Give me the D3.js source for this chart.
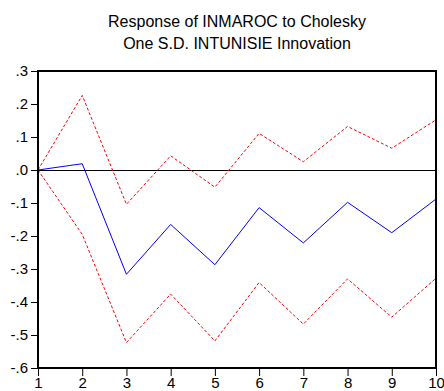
<!DOCTYPE html>
<html><head><meta charset="utf-8">
<script src="https://cdn.jsdelivr.net/npm/d3@7"></script>
<style>body{margin:0;background:#fff}svg{display:block}</style>
</head><body>
<svg id="c" width="444" height="391"></svg>
<script>
const periods = [1,2,3,4,5,6,7,8,9,10];
const response = [0.0, 0.019, -0.316, -0.165, -0.287, -0.114, -0.221, -0.098, -0.19, -0.088];
const upperBand = [0.0, 0.226, -0.104, 0.043, -0.052, 0.111, 0.025, 0.132, 0.066, 0.152];
const lowerBand = [0.0, -0.195, -0.523, -0.376, -0.518, -0.341, -0.467, -0.33, -0.446, -0.328];
const yTicks = [0.3, 0.2, 0.1, 0.0, -0.1, -0.2, -0.3, -0.4, -0.5, -0.6];
const titleLines = ["Response of INMAROC to Cholesky", "One S.D. INTUNISIE Innovation"];

const svg = d3.select("#c");
const L = 38, R = 436, T = 71, B = 368;
const x = d3.scaleLinear().domain([1,10]).range([L,R]);
const y = d3.scaleLinear().domain([-0.6,0.3]).range([B,T]);
const font = "Liberation Sans, Arial, sans-serif";

svg.append("g").selectAll("text").data(titleLines).join("text")
  .attr("x", (L+R)/2).attr("y", (d,i)=>27+i*21.5)
  .attr("text-anchor","middle").attr("font-family",font).attr("font-size",16)
  .attr("fill","#000").text(d=>d);

const fmt = v => { const s = Math.abs(v).toFixed(1).replace(/^0/,""); return (v < -1e-9 ? "-" : "") + s; };

const yAxis = svg.append("g").attr("transform",`translate(${L},0)`)
  .call(d3.axisLeft(y).tickValues(yTicks).tickFormat(fmt).tickSize(7).tickPadding(3));
yAxis.select(".domain").remove();
yAxis.selectAll("text").attr("font-family",font).attr("font-size",15).attr("fill","#000");
yAxis.selectAll("line").attr("stroke","#000");

const xAxis = svg.append("g").attr("transform",`translate(0,${B})`)
  .call(d3.axisBottom(x).tickValues(periods).tickFormat(d3.format("d")).tickSize(8).tickPadding(1));
xAxis.select(".domain").remove();
xAxis.selectAll("text").attr("font-family",font).attr("font-size",15).attr("fill","#000");
xAxis.selectAll("line").attr("stroke","#000");

// zero line
svg.append("line").attr("x1",L).attr("x2",R).attr("y1",y(0)+0.5).attr("y2",y(0)+0.5)
  .attr("stroke","#000").attr("stroke-width",1);

const line = d3.line().x((d,i)=>x(periods[i])).y(d=>y(d));
svg.append("path").datum(upperBand).attr("d",line).attr("fill","none")
  .attr("stroke","#ff0000").attr("stroke-width",1).attr("stroke-dasharray","3,2");
svg.append("path").datum(lowerBand).attr("d",line).attr("fill","none")
  .attr("stroke","#ff0000").attr("stroke-width",1).attr("stroke-dasharray","3,2");
svg.append("path").datum(response).attr("d",line).attr("fill","none")
  .attr("stroke","#0000ff").attr("stroke-width",1);

svg.append("rect").attr("x",L).attr("y",T).attr("width",R-L).attr("height",B-T)
  .attr("fill","none").attr("stroke","#000").attr("stroke-width",2);
</script>
</body></html>
